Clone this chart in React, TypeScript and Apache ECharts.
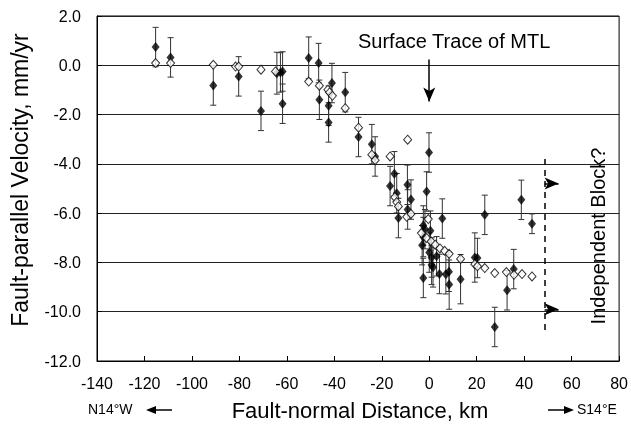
import React, { useEffect, useRef } from "react";
import * as echarts from "echarts";

// Filled diamonds (with error bars): distance km, velocity mm/yr, error
const filledX = [-115.3, -109.0, -91.0, -80.3, -70.9, -64.2, -62.7, -61.8, -61.8, -50.8, -46.6, -46.3, -41.0, -42.4, -42.4, -35.4, -29.8, -24.2, -22.8, -16.5, -14.7, -13.7, -13.0, -9.2, -7.7, -9.1, -0.1, -1.1, 5.5, -2.5, -1.8, 0.5, -2.5, -3.0, 0.0, 1.0, 3.1, 1.0, 1.6, 4.3, 7.0, 8.3, 8.4, 13.2, -2.5, 19.2, 20.3, 23.4, 38.8, 43.3, 27.6, 32.8, 35.6];
const filledY = [0.74, 0.32, -0.82, -0.45, -1.85, -0.32, -0.29, -0.25, -1.56, 0.3, 0.09, -1.4, -0.72, -1.64, -2.32, -1.09, -2.91, -3.2, -3.7, -4.9, -4.4, -5.19, -6.2, -4.85, -5.45, -5.85, -3.54, -5.12, -6.22, -6.5, -6.65, -6.71, -6.97, -7.3, -7.6, -7.8, -7.75, -8.1, -8.2, -8.47, -8.48, -8.38, -8.9, -8.68, -8.63, -7.8, -7.82, -6.07, -5.46, -6.43, -10.62, -9.13, -8.27];
const filledErr = [0.8, 0.8, 0.8, 0.8, 0.8, 0.85, 0.8, 0.8, 0.8, 0.85, 0.8, 0.8, 0.8, 0.8, 0.8, 0.8, 0.8, 0.8, 0.8, 0.8, 0.9, 0.8, 0.8, 0.8, 0.8, 0.8, 0.8, 0.8, 0.8, 0.8, 0.8, 0.8, 0.8, 0.8, 0.8, 0.8, 0.8, 0.8, 0.8, 0.8, 0.8, 0.8, 1.0, 1.0, 0.8, 1.0, 0.8, 0.8, 0.8, 0.4, 0.8, 0.8, 0.8];

// Open diamonds
const openX = [-115.3, -109.0, -91.0, -81.6, -80.3, -70.9, -64.8, -50.8, -46.3, -42.7, -42.0, -40.8, -35.4, -29.8, -24.2, -22.8, -16.5, -9.1, -14.5, -13.7, -13.0, -9.5, -7.7, -0.4, -3.3, -1.1, 0.8, 2.5, 4.5, 6.5, 8.4, 13.2, 19.2, 20.3, 23.4, 27.6, 32.5, 35.7, 39.1, 43.3];
const openY = [0.09, 0.09, 0.02, -0.05, -0.05, -0.18, -0.25, -0.66, -0.83, -0.99, -1.1, -1.24, -1.74, -2.53, -3.63, -3.85, -3.7, -3.02, -5.35, -5.55, -5.73, -6.15, -6.03, -6.24, -6.81, -7.01, -7.15, -7.28, -7.43, -7.53, -7.65, -7.86, -8.07, -8.16, -8.23, -8.43, -8.39, -8.5, -8.47, -8.57];

const xMin = -140;
const xMax = 80;
const xStep = 20;
const yMin = -12;
const yMax = 2;
const yStep = 2;

const blockX = 48.6;
const blockTop = -3.8;
const blockBottom = -10.75;
const blockArrowYs = [-4.8, -9.9];
const blockArrowEnd = 54.5;
const traceTop = 0.23;
const traceTip = -1.47;

const FONT = '"Liberation Sans", Arial, sans-serif';

export default function App() {
  const ref = useRef<HTMLDivElement>(null);
  useEffect(() => {
    if (!ref.current) return;
    const chart = echarts.init(ref.current, undefined, { renderer: "svg" });
    const filledData = filledX.map((x, i) => [x, filledY[i]]);
    const errData = filledX.map((x, i) => [x, filledY[i], filledErr[i]]);
    const openData = openX.map((x, i) => [x, openY[i]]);
    const lineStyleBlack = { color: "#000", width: 1 };
    chart.setOption({
      animation: false,
      textStyle: { fontFamily: FONT },
      grid: { left: 97, right: 9, top: 16, bottom: 69, show: true, borderColor: "#000", borderWidth: 1 },
      xAxis: {
        type: "value",
        min: xMin,
        max: xMax,
        interval: xStep,
        axisLine: { onZero: false, lineStyle: lineStyleBlack },
        axisTick: { inside: true, length: 5, lineStyle: lineStyleBlack },
        splitLine: { show: false },
        axisLabel: { color: "#000", fontSize: 16, fontFamily: FONT, margin: 14 },
      },
      yAxis: {
        type: "value",
        min: yMin,
        max: yMax,
        interval: yStep,
        axisLine: { show: true, onZero: false, lineStyle: lineStyleBlack },
        axisTick: { show: true, inside: true, length: 5, lineStyle: lineStyleBlack },
        splitLine: { show: true, lineStyle: { color: "#222", width: 1 } },
        axisLabel: { color: "#000", fontSize: 16, fontFamily: FONT, margin: 16, formatter: (v: number) => v.toFixed(1) },
      },
      series: [
        {
          type: "custom",
          data: errData,
          encode: { x: 0, y: 1 },
          z: 2,
          renderItem: (params: any, api: any) => {
            const x = api.value(0);
            const y = api.value(1);
            const e = api.value(2);
            const top = api.coord([x, y + e]);
            const bot = api.coord([x, y - e]);
            const hw = 3;
            const style = { stroke: "#333", lineWidth: 1 };
            return {
              type: "group",
              children: [
                { type: "line", shape: { x1: top[0], y1: top[1], x2: bot[0], y2: bot[1] }, style },
                { type: "line", shape: { x1: top[0] - hw, y1: top[1], x2: top[0] + hw, y2: top[1] }, style },
                { type: "line", shape: { x1: bot[0] - hw, y1: bot[1], x2: bot[0] + hw, y2: bot[1] }, style },
              ],
            };
          },
        },
        {
          type: "scatter",
          data: filledData,
          symbol: "diamond",
          symbolSize: [8, 10],
          itemStyle: { color: "#000" },
          z: 3,
          markLine: {
            silent: true,
            animation: false,
            label: { show: false },
            symbol: ["none", "arrow"],
            symbolSize: [9, 14],
            data: [
              [
                { coord: [blockX, blockTop], symbol: "none", lineStyle: { type: [6, 5], color: "#000", width: 1.5 } },
                { coord: [blockX, blockBottom], symbol: "none" },
              ],
              ...blockArrowYs.map((yy) => [
                { coord: [blockX, yy], symbol: "none", lineStyle: { type: [6, 5], color: "#000", width: 1.5 } },
                { coord: [blockArrowEnd, yy], symbol: "arrow", symbolSize: [9, 14] },
              ]),
              [
                { coord: [0, traceTop], symbol: "none", lineStyle: { type: "solid", color: "#000", width: 1.5 } },
                { coord: [0, traceTip], symbol: "arrow", symbolSize: [9, 14] },
              ],
            ],
          },
        },
        {
          type: "scatter",
          data: openData,
          symbol: "diamond",
          symbolSize: [8, 9],
          itemStyle: { color: "#fff", borderColor: "#000", borderWidth: 1 },
          z: 4,
        },
      ],
      graphic: [
        {
          type: "text",
          x: 20,
          y: 180,
          rotation: Math.PI / 2,
          style: { text: "Fault-parallel Velocity, mm/yr", font: `23px ${FONT}`, fill: "#000", textAlign: "center", textVerticalAlign: "middle" },
        },
        {
          type: "text",
          x: 360,
          y: 410,
          style: { text: "Fault-normal Distance, km", font: `22px ${FONT}`, fill: "#000", textAlign: "center", textVerticalAlign: "middle" },
        },
        {
          type: "text",
          x: 88,
          y: 409,
          style: { text: "N14°W", font: `14px ${FONT}`, fill: "#000", textAlign: "left", textVerticalAlign: "middle" },
        },
        { type: "line", shape: { x1: 154, y1: 410, x2: 172, y2: 410 }, style: { stroke: "#000", lineWidth: 1.5 } },
        { type: "polygon", shape: { points: [[146, 410], [156, 406], [156, 414]] }, style: { fill: "#000" } },
        { type: "line", shape: { x1: 548, y1: 410, x2: 566, y2: 410 }, style: { stroke: "#000", lineWidth: 1.5 } },
        { type: "polygon", shape: { points: [[574, 410], [564, 406], [564, 414]] }, style: { fill: "#000" } },
        {
          type: "text",
          x: 577,
          y: 409,
          style: { text: "S14°E", font: `14px ${FONT}`, fill: "#000", textAlign: "left", textVerticalAlign: "middle" },
        },
        {
          type: "text",
          x: 358,
          y: 41,
          style: { text: "Surface Trace of MTL", font: `20px ${FONT}`, fill: "#000", textAlign: "left", textVerticalAlign: "middle" },
        },
        {
          type: "text",
          x: 598,
          y: 236,
          rotation: Math.PI / 2,
          style: { text: "Independent Block?", font: `20px ${FONT}`, fill: "#000", textAlign: "center", textVerticalAlign: "middle" },
        },
      ],
    });
    return () => chart.dispose();
  }, []);
  return <div ref={ref} style={{ position: "fixed", left: 0, top: 0, width: 631, height: 430 }} />;
}
